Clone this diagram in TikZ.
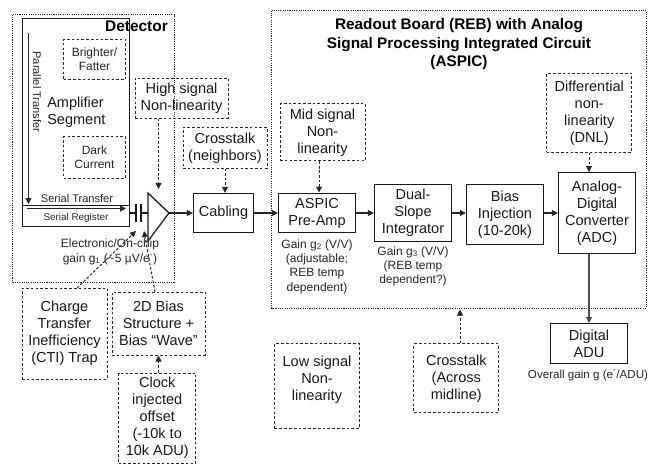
\documentclass[tikz,border=0pt]{standalone}
\usepackage{fontspec}
\setmainfont{Liberation Sans}
\usetikzlibrary{arrows.meta,calc}
\tikzset{
 x=0.75pt,y=-0.75pt,
 lbl/.style={inner sep=0pt,align=center,font=\fontsize{10.9pt}{12.75pt}\selectfont,text=black!90},
 small/.style={inner sep=0pt,align=center,font=\fontsize{9pt}{10.7pt}\selectfont,text=black!85},
 serial/.style={inner sep=0pt,align=center,font=\fontsize{8.3pt}{10pt}\selectfont,text=black!85},
 solidbox/.style={draw=black!90,line width=0.95pt,inner sep=0pt},
 dashbox/.style={draw=black!85,line width=0.75pt,dash pattern=on 2pt off 1.6pt,inner sep=0pt},
 dotbox/.style={draw=black!85,line width=0.75pt,dash pattern=on 0.8pt off 0.9pt,inner sep=0pt},
 flow/.style={draw=black!85,line width=0.85pt,-{Triangle[length=4.5pt,width=4.5pt]}},
 dashflow/.style={draw=black!85,line width=0.75pt,dash pattern=on 2pt off 1.4pt,-{Triangle[length=4.5pt,width=4.5pt]}},
}
\begin{document}
\begin{tikzpicture}
\useasboundingbox (0,0) rectangle (649,464);
\fill[white] (0,0) rectangle (649,464);
% containers
\coordinate (detA) at (12.5,14.5); \coordinate (detB) at (174,282);
\draw[dotbox] (detA) rectangle (detB);
\coordinate (rebA) at (271.5,10.5); \coordinate (rebB) at (646.5,308);
\draw[dotbox] (rebA) rectangle (rebB);
% amplifier segment
\coordinate (ampA) at (22.5,18.5); \coordinate (ampB) at (129.5,226.5);
\draw[solidbox] (ampA) rectangle (ampB);
\coordinate (srL) at (22.5,205.5); \coordinate (srR) at (129.5,205.5);
\draw[solidbox] (srL) -- (srR);
\node[inner sep=0pt,font=\bfseries\fontsize{11.6pt}{13pt}\selectfont] (dettitle) at (136.5,26) {Detector};
\coordinate (parS) at (28.5,33); \coordinate (parE) at (28.5,204);
\draw[flow] (parS) -- (parE);
\node[serial,rotate=-90] (par) at (37,92) {Parallel Transfer};
\coordinate (serS) at (27,208.5); \coordinate (serE) at (126,208.5);
\draw[flow] (serS) -- (serE);
\node[serial] (sert) at (77,199) {Serial Transfer};
\node[inner sep=0pt,font=\fontsize{7.4pt}{8pt}\selectfont,text=black!85] (serr) at (76,217.5) {Serial Register};
\node[lbl,align=left,anchor=west] (amp) at (47,112.5) {Amplifier\\Segment};
\node[dashbox,small,minimum width=46.5pt,minimum height=30.4pt,anchor=center] (bf) at (94.5,59.5) {Brighter/\\Fatter};
\node[dashbox,small,minimum width=46.5pt,minimum height=30.8pt] (dc) at (94.5,157.5) {Dark\\Current};
% capacitor and amplifier
\coordinate (c1) at (136,213); \coordinate (c2) at (141,213);
\coordinate (tri1) at (148,193); \coordinate (tri2) at (148,241); \coordinate (triE) at (169,213);
\coordinate (triW) at (148,213);
\draw[solidbox] (129.5,213) -- (c1);
\draw[solidbox] (136,204) -- (136,222);
\draw[solidbox] (141,204) -- (141,222);
\draw[solidbox] (c2) -- (triW);
\draw[solidbox] (tri1) -- (triE) -- (tri2) -- cycle;
% main chain
\node[solidbox,lbl,minimum width=45pt,minimum height=29.25pt] (cab) at (223.5,213) {Cabling};
\node[solidbox,lbl,minimum width=57.75pt,minimum height=29.25pt] (pre) at (317,213) {ASPIC\\Pre-Amp};
\node[solidbox,lbl,minimum width=57.75pt,minimum height=42.75pt] (dual) at (413,213) {Dual-\\Slope\\Integrator};
\node[solidbox,lbl,minimum width=57.75pt,minimum height=45pt] (bias) at (505,214.5) {Bias\\Injection\\(10-20k)};
\node[solidbox,lbl,minimum width=57.75pt,minimum height=60.75pt] (adc) at (597,213) {Analog-\\Digital\\Converter\\(ADC)};
\node[solidbox,lbl,minimum width=57.75pt,minimum height=30pt] (adu) at (589,343.5) {Digital\\ADU};
\draw[flow] (triE) -- (cab.west);
\draw[flow] (cab.east) -- (pre.west);
\draw[flow] (pre.east) -- (dual.west);
\draw[flow] (dual.east) -- ($(bias.west)+(0,-1.5)$);
\draw[flow] ($(bias.east)+(0,-1.5)$) -- (adc.west);
\coordinate (adcS) at (589,253.5); \coordinate (aduN) at (589,323);
\draw[draw=black!70,line width=1.5pt,-{Triangle[length=4.5pt,width=4.5pt]}] (adcS) -- (aduN);
% dashed sources
\node[dashbox,lbl,minimum width=69.75pt,minimum height=30pt] (high) at (181.5,98) {High signal\\Non-linearity};
\node[dashbox,lbl,minimum width=63pt,minimum height=30.5pt] (xn) at (225,147.75) {Crosstalk\\(neighbors)};
\node[dashbox,lbl,minimum width=63.75pt,minimum height=43pt] (mid) at (322.5,132.25) {Mid signal\\Non-\\linearity};
\node[dashbox,lbl,minimum width=64pt,minimum height=58.9pt] (dnl) at (589.25,112.75) {Differential\\non-\\linearity\\(DNL)};
\node[dashbox,lbl,minimum width=63.75pt,minimum height=68.25pt] (cti) at (64.5,333.5) {Charge\\Transfer\\Inefficiency\\(CTI) Trap};
\node[dashbox,lbl,minimum width=69.75pt,minimum height=47.25pt] (b2d) at (158.5,323.5) {2D Bias\\Structure +\\Bias “Wave”};
\node[dashbox,lbl,minimum width=58.1pt,minimum height=67.5pt] (clk) at (157.25,418) {Clock\\injected\\offset\\(-10k to\\10k ADU)};
\node[dashbox,lbl,minimum width=63.5pt,minimum height=63.5pt] (low) at (317,386.3) {Low signal\\Non-\\linearity\\\mbox{}};
\node[dashbox,lbl,minimum width=63.5pt,minimum height=51.5pt] (xm) at (456.3,378.3) {Crosstalk\\(Across\\midline)};
\coordinate (hiT) at (158.5,189);
\draw[dashflow] (high.south -| hiT) -- (hiT);
\draw[dashflow] (xn.south) -- (cab.north -| xn.south);
\coordinate (midE) at (319,192.5);
\draw[dashflow] (mid.south -| midE) -- (midE);
\coordinate (dnlE) at (589,172);
\draw[dashflow] (dnl.south -| dnlE) -- (dnlE);
\coordinate (ctiS) at (77,288); \coordinate (ctiE) at (136,231);
\draw[dashflow] (ctiS) -- (ctiE);
\coordinate (b2dS) at (155,292); \coordinate (b2dE) at (144,231);
\draw[dashflow] (b2dS) -- (b2dE);
\draw[dashflow] (clk.north -| hiT) -- (b2d.south -| hiT);
\coordinate (xmE) at (460,309.5);
\draw[dashflow] (xm.north -| xmE) -- (xmE);
% captions
\node[small] (elec) at (110,252) {Electronic/On-chip\\gain g\textsubscript{1} (\textasciitilde 5 µV/e\textsuperscript{-})};
\node[small] (g2) at (317,266.5) {Gain g\textsubscript{2} (V/V)\\(adjustable;\\REB temp\\dependent)};
\node[small] (g3) at (413,266.5) {Gain g\textsubscript{3} (V/V)\\(REB temp\\dependent?)};
\node[small,font=\fontsize{8.7pt}{10.7pt}\selectfont] (ovr) at (588,375) {Overall gain g (e\textsuperscript{-}/ADU)};
\node[inner sep=0pt,align=center,font=\bfseries\fontsize{11.5pt}{13.9pt}\selectfont] (title) at (459,44.5) {Readout Board (REB) with Analog\\Signal Processing Integrated Circuit\\(ASPIC)};
\end{tikzpicture}
\end{document}
